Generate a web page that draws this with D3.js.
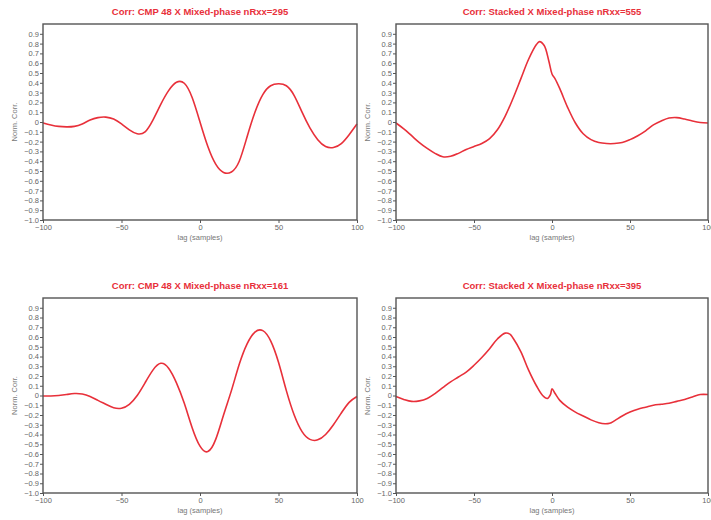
<!DOCTYPE html>
<html>
<head>
<meta charset="utf-8">
<script src="https://cdn.jsdelivr.net/npm/d3@7"></script>
<style>
  body { margin: 0; background: #fff; }
  svg { display: block; font-family: "Liberation Sans", Arial, sans-serif; }
  .tick text { fill: #666; font-size: 7.5px; }
  .tick line { stroke: #555; }
</style>
</head>
<body>
<div id="chart"></div>
<script>
const titles = ["Corr: CMP 48 X Mixed-phase nRxx=295", "Corr: Stacked X Mixed-phase nRxx=555",
  "Corr: CMP 48 X Mixed-phase nRxx=161", "Corr: Stacked X Mixed-phase nRxx=395"];

const lagsA = [-100,-95,-90,-85,-80,-75,-70,-65,-60,-55,-50,-45,-40,-35,-30,-25,-20,-15,-10,-5,0,5,10,15,20,25,30,35,40,45,50,55,60,65,70,75,80,85,90,95,100];
const corrA = [-0.01,-0.03,-0.045,-0.05,-0.045,-0.02,0.02,0.045,0.05,0.03,-0.02,-0.08,-0.12,-0.1,0.02,0.18,0.32,0.405,0.395,0.25,0.0,-0.25,-0.43,-0.515,-0.51,-0.4,-0.15,0.1,0.28,0.37,0.39,0.37,0.27,0.1,-0.06,-0.18,-0.25,-0.26,-0.22,-0.13,-0.02];

const lagsB = [-100,-95,-90,-85,-80,-75,-70,-65,-60,-55,-50,-45,-40,-35,-30,-25,-20,-15,-10,-8,-5,-2,0,2,5,10,15,20,25,30,35,40,45,50,55,60,65,70,75,80,85,90,95,100];
const corrB = [-0.01,-0.07,-0.14,-0.21,-0.27,-0.32,-0.355,-0.35,-0.32,-0.28,-0.25,-0.22,-0.17,-0.08,0.06,0.24,0.44,0.64,0.79,0.82,0.78,0.62,0.49,0.44,0.34,0.15,-0.01,-0.12,-0.18,-0.21,-0.22,-0.22,-0.21,-0.18,-0.14,-0.09,-0.03,0.01,0.04,0.045,0.03,0.01,-0.005,-0.01];

const lagsC = [-100,-95,-90,-85,-80,-75,-70,-65,-60,-55,-50,-45,-40,-35,-30,-25,-20,-15,-10,-5,0,5,10,15,20,25,30,35,40,45,50,55,60,65,70,75,80,85,90,95,100];
const corrC = [-0.005,-0.005,0.0,0.01,0.02,0.015,-0.01,-0.05,-0.09,-0.125,-0.13,-0.09,0.0,0.13,0.26,0.33,0.28,0.13,-0.08,-0.33,-0.52,-0.575,-0.45,-0.2,0.05,0.32,0.53,0.65,0.665,0.56,0.34,0.05,-0.2,-0.37,-0.45,-0.455,-0.4,-0.3,-0.18,-0.07,-0.01];

const lagsD = [-100,-95,-90,-85,-80,-75,-70,-65,-60,-55,-50,-45,-40,-35,-30,-27,-25,-20,-15,-10,-6,-3,-1,0,2,5,10,15,20,25,30,34,37,40,45,50,55,60,65,70,75,80,85,90,95,100];
const corrD = [-0.01,-0.04,-0.06,-0.055,-0.03,0.02,0.08,0.14,0.19,0.24,0.31,0.39,0.48,0.58,0.64,0.63,0.59,0.45,0.26,0.1,0.0,-0.03,0.01,0.07,0.02,-0.05,-0.12,-0.17,-0.21,-0.25,-0.28,-0.29,-0.285,-0.26,-0.21,-0.17,-0.14,-0.12,-0.1,-0.09,-0.08,-0.06,-0.04,-0.015,0.01,0.01];

const xTicks = [-100, -50, 0, 50, 100];
const yTicks = d3.range(-10, 10).map(d => d / 10);

const width = 711, height = 520;
const svg = d3.select("#chart").append("svg")
  .attr("width", width).attr("height", height)
  .style("overflow", "visible");

const series = [[lagsA, corrA], [lagsB, corrB], [lagsC, corrC], [lagsD, corrD]];
// panel boxes: left, right, top, bottom
const boxes = [[43, 357, 24, 220], [396, 708, 24, 220], [43, 357, 298, 493], [396, 708, 298, 493]];
// smooth oscillations on the left, keep the kinks at lag 0 on the right
const curves = [d3.curveNatural, d3.curveCatmullRom.alpha(0.5), d3.curveNatural, d3.curveCatmullRom.alpha(0.5)];

series.forEach(([lags, corr], i) => {
  const [l, r, t, b] = boxes[i];
  const x = d3.scaleLinear().domain([-100, 100]).range([l, r]);
  const y = d3.scaleLinear().domain([-1, 1]).range([b, t]);
  const g = svg.append("g");

  g.append("text")
    .attr("x", (l + r) / 2).attr("y", t - 9)
    .attr("text-anchor", "middle")
    .attr("fill", "#e8303a")
    .attr("font-weight", "bold")
    .attr("font-size", 9.5)
    .text(titles[i]);

  g.append("g")
    .attr("transform", `translate(${l},0)`)
    .call(d3.axisLeft(y).tickValues(yTicks).tickSize(3).tickPadding(1)
      .tickFormat(d => d === 0 ? "0" : d3.format(".1f")(d)))
    .call(a => a.select(".domain").remove());

  g.append("g")
    .attr("transform", `translate(0,${b})`)
    .call(d3.axisBottom(x).tickValues(xTicks).tickSize(3).tickPadding(1.5))
    .call(a => a.select(".domain").remove());

  g.append("text")
    .attr("transform", `translate(${l - 26},${(t + b) / 2}) rotate(-90)`)
    .attr("text-anchor", "middle")
    .attr("fill", "#777")
    .attr("font-size", 7.5)
    .text("Norm. Corr.");

  g.append("text")
    .attr("x", (l + r) / 2).attr("y", b + 20)
    .attr("text-anchor", "middle")
    .attr("fill", "#777")
    .attr("font-size", 7.5)
    .text("lag (samples)");

  const line = d3.line()
    .x(d => x(d[0]))
    .y(d => y(d[1]))
    .curve(curves[i]);

  g.append("path")
    .datum(d3.zip(lags, corr))
    .attr("fill", "none")
    .attr("stroke", "#e8303a")
    .attr("stroke-width", 1.6)
    .attr("d", line);

  g.append("rect")
    .attr("x", l).attr("y", t)
    .attr("width", r - l).attr("height", b - t)
    .attr("fill", "none")
    .attr("stroke", "#555")
    .attr("stroke-width", 1.4);
});
</script>
</body>
</html>
